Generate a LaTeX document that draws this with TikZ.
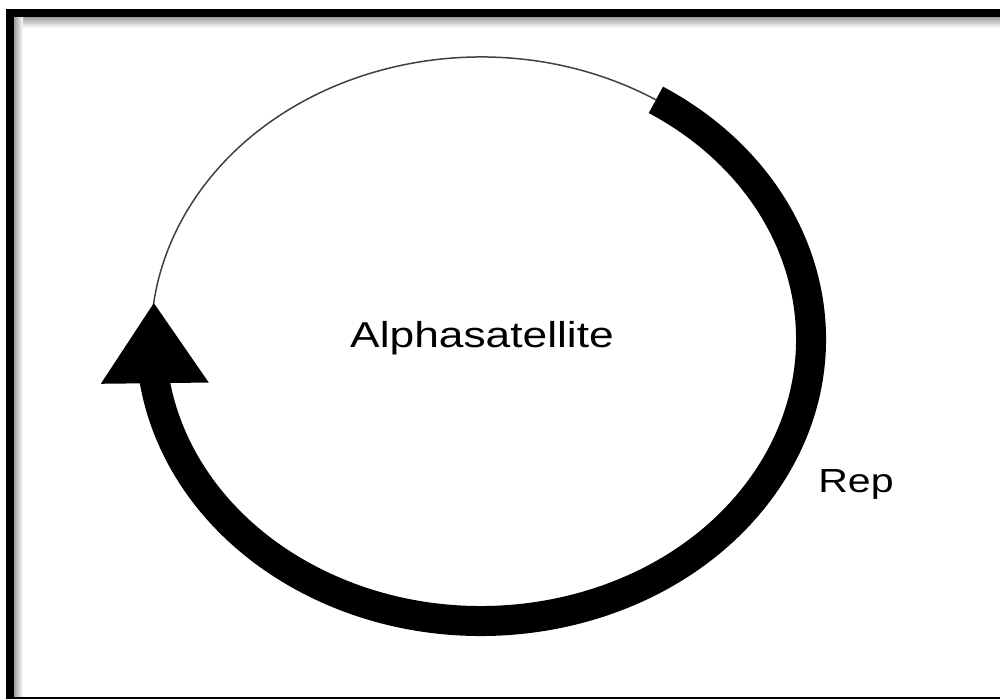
\documentclass[tikz,border=0pt]{standalone}
\usepackage{fontspec}
\setsansfont{Liberation Sans}
\usetikzlibrary{arrows.meta, bending}
\definecolor{RingBlack}{rgb}{0.0, 0.0, 0.0}
\definecolor{ThinGray}{rgb}{0.25, 0.25, 0.25}
\definecolor{FrameShade}{rgb}{0.62, 0.62, 0.62}
\def\rx{330}
\def\ry{282}

\begin{document}
\begin{tikzpicture}[x=0.02cm, y=0.02cm, font=\sffamily,
    lbl/.style={font=\sffamily\fontsize{19}{23}\selectfont, text=black, xscale=1.23, anchor=base}]

\useasboundingbox (0,0) rectangle (1000,699);
\clip (0,0) rectangle (1000,699);

% marco
\shade[top color=FrameShade, bottom color=white] (14,682) rectangle (1000,671);
\shade[left color=FrameShade, right color=white] (14,682) rectangle (23,0);
\draw[black, line width=0.16cm] (10,686) rectangle (1004,-2);

% anillo
\coordinate (c) at (481,360);
\draw[ThinGray, line width=0.03cm] ([shift={(58:{\rx} and {\ry})}]c)
    arc[start angle=58, end angle=178, x radius=\rx, y radius=\ry];
\draw[RingBlack, line width=0.6cm, -{Triangle[length=1.62cm, width=2.04cm, flex]}]
    ([shift={(58:{\rx} and {\ry})}]c)
    arc[start angle=58, end angle=-187.5, x radius=\rx, y radius=\ry];

% textos
\node[lbl, font=\sffamily\fontsize{20.5}{24}\selectfont] (alpha) at (482,351) {Alphasatellite};
\node[lbl] (rep) at (856,206) {Rep};

\end{tikzpicture}
\end{document}
